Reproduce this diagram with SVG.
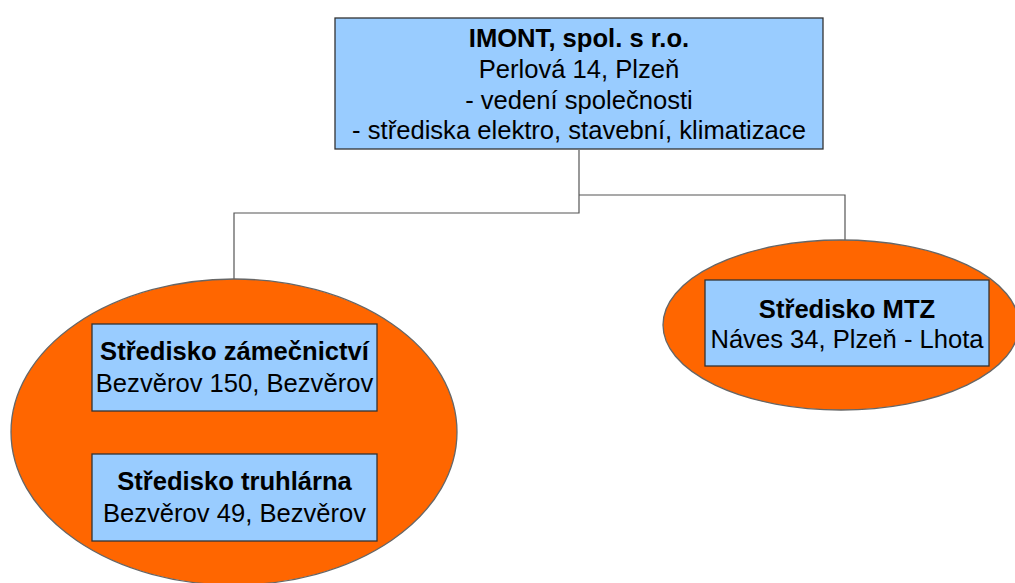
<svg xmlns="http://www.w3.org/2000/svg" width="1015" height="583" viewBox="0 0 1015 583">
<style>
.box{fill:#99ccff;stroke:#333;stroke-width:1.3}
.ell{fill:#ff6600;stroke:#666;stroke-width:1.3}
.con{fill:none;stroke:#555;stroke-width:1.2}
text{font-family:"Liberation Sans",Arial,sans-serif;font-size:25.6px;fill:#000;text-anchor:middle}
.b{font-weight:bold}
</style>
<rect width="1015" height="583" fill="#fff"/>
<g id="connectors">
<polyline class="con" points="579,150 579,213 234,213 234,279"/>
<polyline class="con" points="579,195 845,195 845,240"/>
</g>
<g id="imont">
<rect class="box" x="335" y="18" width="488" height="131"/>
<text x="579" y="47" class="b">IMONT, spol. s r.o.</text>
<text x="579" y="78">Perlová 14, Plzeň</text>
<text x="579" y="109">- vedení společnosti</text>
<text x="579" y="139">- střediska elektro, stavební, klimatizace</text>
</g>
<g id="group-bezverov">
<ellipse class="ell" cx="234" cy="432" rx="223" ry="153"/>
</g>
<g id="zamecnictvi">
<rect class="box" x="92" y="324" width="285" height="87"/>
<text x="234.5" y="360" class="b">Středisko zámečnictví</text>
<text x="234.5" y="392">Bezvěrov 150, Bezvěrov</text>
</g>
<g id="truhlarna">
<rect class="box" x="92" y="454" width="285" height="87"/>
<text x="234.5" y="490" class="b">Středisko truhlárna</text>
<text x="234.5" y="522">Bezvěrov 49, Bezvěrov</text>
</g>
<g id="group-mtz">
<ellipse class="ell" cx="841" cy="325" rx="178" ry="85"/>
</g>
<g id="mtz">
<rect class="box" x="705" y="280" width="284" height="86"/>
<text x="847" y="318" class="b">Středisko MTZ</text>
<text x="847" y="348">Náves 34, Plzeň - Lhota</text>
</g>
</svg>
